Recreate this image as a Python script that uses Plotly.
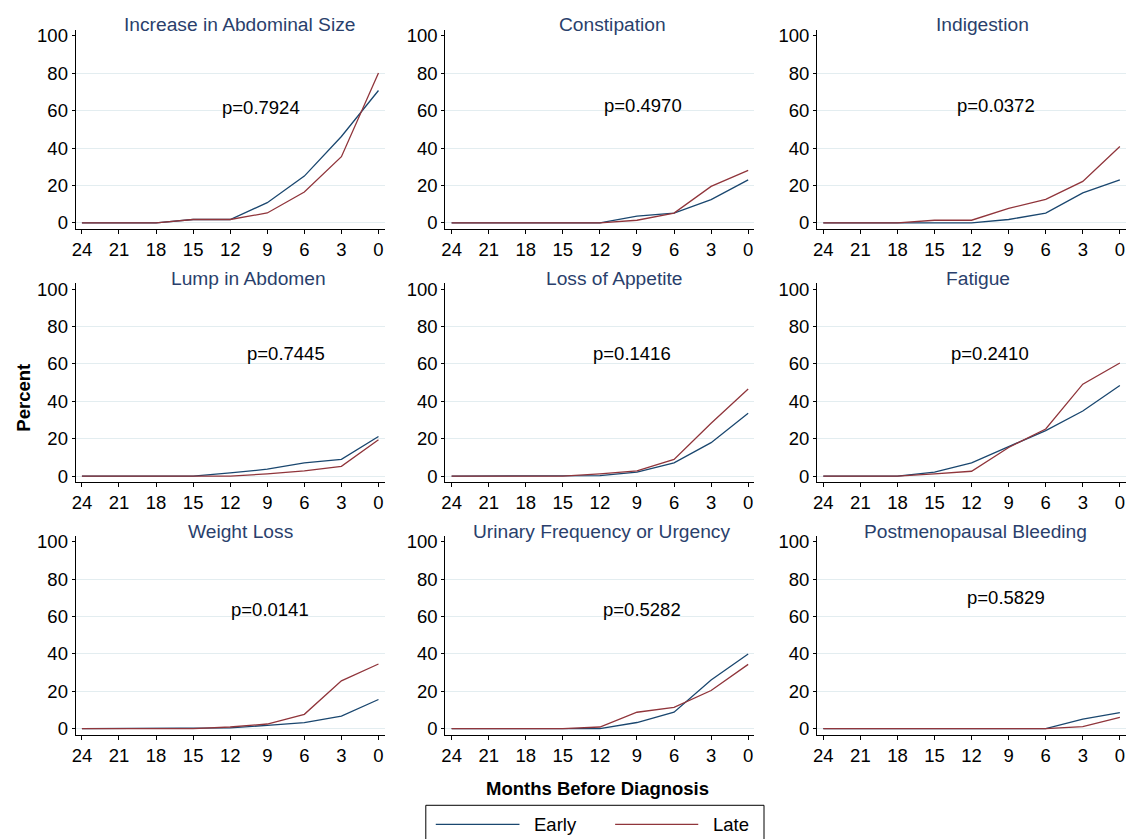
import plotly.graph_objects as go

# Months before diagnosis (x axis of every panel)
months = [24, 21, 18, 15, 12, 9, 6, 3, 0]
month_labels = [str(m) for m in months]
percent_ticks = [0, 20, 40, 60, 80, 100]

# Symptom panels, in reading order
symptoms = [
    "Increase in Abdominal Size", "Constipation", "Indigestion",
    "Lump in Abdomen", "Loss of Appetite", "Fatigue",
    "Weight Loss", "Urinary Frequency or Urgency", "Postmenopausal Bleeding",
]
p_values = ["p=0.7924", "p=0.4970", "p=0.0372",
            "p=0.7445", "p=0.1416", "p=0.2410",
            "p=0.0141", "p=0.5282", "p=0.5829"]

# Percent of women reporting each symptom: early vs late stage
abdominal_size_early = [0, 0, 0, 1.8, 1.8, 10.8, 25.0, 46.2, 70.8]
abdominal_size_late = [0, 0, 0, 1.8, 1.8, 5.3, 16.5, 35.4, 80.2]
constipation_early = [0, 0, 0, 0, 0, 3.6, 5.2, 12.4, 23.0]
constipation_late = [0, 0, 0, 0, 0, 1.4, 5.2, 19.5, 28.1]
indigestion_early = [0, 0, 0, 0, 0, 1.8, 5.2, 16.0, 23.0]
indigestion_late = [0, 0, 0, 1.4, 1.4, 7.7, 12.6, 22.2, 40.9]
lump_early = [0, 0, 0, 0, 1.7, 3.7, 7.1, 9.0, 21.2]
lump_late = [0, 0, 0, 0, 0, 1.2, 2.8, 5.2, 19.5]
appetite_early = [0, 0, 0, 0, 0.3, 2.1, 7.1, 17.9, 33.6]
appetite_late = [0, 0, 0, 0, 1.2, 2.8, 8.9, 28.3, 46.6]
fatigue_early = [0, 0, 0, 2.1, 7.1, 15.8, 24.3, 34.8, 48.5]
fatigue_late = [0, 0, 0, 1.2, 2.6, 15.3, 25.2, 49.2, 60.5]
weight_loss_early = [0, 0, 0, 0, 0.4, 1.8, 3.2, 6.7, 15.6]
weight_loss_late = [0, 0, 0, 0, 0.9, 2.5, 7.7, 25.6, 34.6]
urinary_early = [0, 0, 0, 0, 0, 3.3, 8.8, 26.0, 40.0]
urinary_late = [0, 0, 0, 0, 0.9, 8.8, 11.4, 20.4, 34.4]
bleeding_early = [0, 0, 0, 0, 0, 0, 0, 5.1, 8.6]
bleeding_late = [0, 0, 0, 0, 0, 0, 0, 1.1, 6.1]

series = [
    (abdominal_size_early, abdominal_size_late),
    (constipation_early, constipation_late),
    (indigestion_early, indigestion_late),
    (lump_early, lump_late),
    (appetite_early, appetite_late),
    (fatigue_early, fatigue_late),
    (weight_loss_early, weight_loss_late),
    (urinary_early, urinary_late),
    (bleeding_early, bleeding_late),
]

# Where each p-value sits inside its panel (data units)
p_label_x = [9.5, 8.5, 10.0, 7.5, 9.4, 10.5, 8.8, 8.6, 9.2]
p_label_y = [61.5, 62.9, 62.9, 65.8, 65.8, 65.8, 63.9, 63.5, 70.2]

# Page geometry in pixels
W, H = 1136, 839
col_px = [(72, 382), (443, 753), (816, 1126)]
row_px = [(26, 227), (281.7, 482.7), (536.7, 737.7)]
title_cx = [236, 611, 981.7, 245, 612.8, 977.5, 237.2, 599.2, 975.2]
title_cy = [20.5, 276.7, 532.2]

EARLY = "#1a476f"
LATE = "#90353b"
TITLE_C = "#2a3f6c"
GRID = "#e3edf0"
FONT = "Liberation Sans, Arial, sans-serif"
FS = 18.5
TITLE_FS = 19.2


def px_x(p):
    return p / W


def px_y(p):
    return 1 - p / H


fig = go.Figure()
layout = {}
annotations = []

for i, (name, (early, late)) in enumerate(zip(symptoms, series)):
    r, c = divmod(i, 3)
    n = "" if i == 0 else str(i + 1)
    fig.add_trace(go.Scatter(x=months, y=early, mode="lines", name="Early",
                             line=dict(color=EARLY, width=1.3),
                             xaxis="x" + n, yaxis="y" + n, showlegend=False))
    fig.add_trace(go.Scatter(x=months, y=late, mode="lines", name="Late",
                             line=dict(color=LATE, width=1.3),
                             xaxis="x" + n, yaxis="y" + n, showlegend=False))

    x0, x1 = col_px[c]
    y0, y1 = row_px[r]
    layout["xaxis" + n] = dict(
        domain=[px_x(x0), px_x(x1)], anchor="y" + n,
        range=[24.5, -0.5], tickmode="array", tickvals=months, ticktext=month_labels,
        showline=True, linecolor="black", linewidth=1.2,
        ticks="outside", ticklen=4, tickcolor="black", tickwidth=1,
        showgrid=False, zeroline=False,
        tickfont=dict(family=FONT, size=FS, color="black"),
    )
    layout["yaxis" + n] = dict(
        domain=[px_y(y1), px_y(y0)], anchor="x" + n,
        range=[-3.2, 103.3], tickmode="array", tickvals=percent_ticks,
        showline=True, linecolor="black", linewidth=1.2,
        ticks="outside", ticklen=3, tickcolor="black", tickwidth=1,
        showgrid=False, zeroline=False,
        minor=dict(tickvals=[0, 20, 40, 60, 80], showgrid=True,
                   gridcolor=GRID, gridwidth=1.2, ticks=""),
        tickfont=dict(family=FONT, size=FS, color="black"),
    )

    annotations.append(dict(
        text=name, xref="paper", yref="paper",
        x=px_x(title_cx[i]), y=px_y(title_cy[r]),
        xanchor="center", yanchor="middle", showarrow=False,
        font=dict(family=FONT, size=TITLE_FS, color=TITLE_C)))
    annotations.append(dict(
        text=p_values[i], xref="x" + n, yref="y" + n,
        x=p_label_x[i], y=p_label_y[i],
        xanchor="center", yanchor="middle", showarrow=False,
        font=dict(family=FONT, size=FS, color="black")))

# Shared axis titles
annotations.append(dict(
    text="<b>Percent</b>", xref="paper", yref="paper",
    x=px_x(20), y=px_y(397.5), textangle=-90,
    xanchor="center", yanchor="middle", showarrow=False,
    font=dict(family=FONT, size=FS, color="black")))
annotations.append(dict(
    text="<b>Months Before Diagnosis</b>", xref="paper", yref="paper",
    x=px_x(595.5), y=px_y(792.5),
    xanchor="center", yanchor="middle", showarrow=False,
    font=dict(family=FONT, size=FS, color="black")))

# Legend box with long line keys
leg_y = 828.3
shapes = [
    dict(type="rect", xref="paper", yref="paper",
         x0=px_x(423.3), x1=px_x(762.7), y0=px_y(850), y1=px_y(809),
         line=dict(color="black", width=1), fillcolor="white", layer="below"),
    dict(type="line", xref="paper", yref="paper",
         x0=px_x(433.3), x1=px_x(517.3), y0=px_y(leg_y), y1=px_y(leg_y),
         line=dict(color=EARLY, width=1.3)),
    dict(type="line", xref="paper", yref="paper",
         x0=px_x(613.3), x1=px_x(696.7), y0=px_y(leg_y), y1=px_y(leg_y),
         line=dict(color=LATE, width=1.3)),
]
annotations.append(dict(
    text="Early", xref="paper", yref="paper", x=px_x(530), y=px_y(leg_y),
    xanchor="left", yanchor="middle", showarrow=False,
    font=dict(family=FONT, size=FS, color="black")))
annotations.append(dict(
    text="Late", xref="paper", yref="paper", x=px_x(709.7), y=px_y(leg_y),
    xanchor="left", yanchor="middle", showarrow=False,
    font=dict(family=FONT, size=FS, color="black")))

fig.update_layout(
    width=W, height=H,
    margin=dict(l=0, r=0, t=0, b=0),
    paper_bgcolor="white", plot_bgcolor="white",
    showlegend=False,
    annotations=annotations, shapes=shapes,
    font=dict(family=FONT, size=FS, color="black"),
    **layout,
)

fig.write_html("out.html", config={"displayModeBar": False})
